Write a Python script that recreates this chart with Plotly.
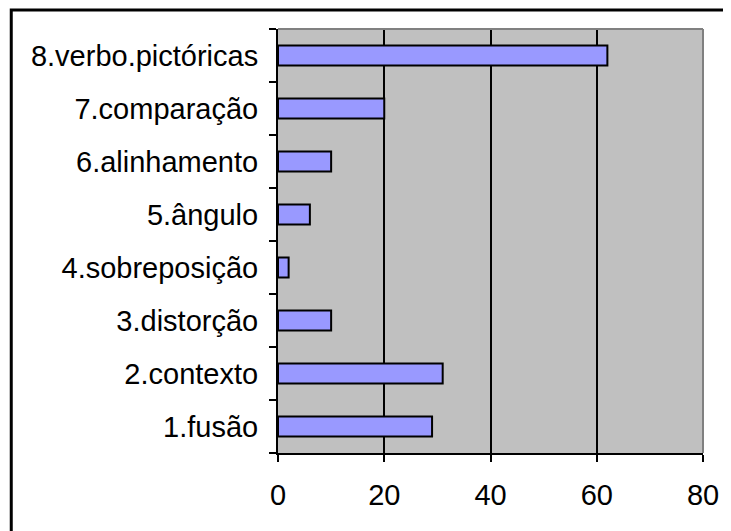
import plotly.graph_objects as go

categories = ["1.fusão", "2.contexto", "3.distorção", "4.sobreposição",
              "5.ângulo", "6.alinhamento", "7.comparação", "8.verbo.pictóricas"]
values = [29, 31, 10, 2, 6, 10, 20, 62]
x_ticks = [0, 20, 40, 60, 80]

# page offset of 8px (default body margin) compensated
OFF = 8
W, H = 731 - OFF, 531 - OFF
ml, mr, mt, mb = 278 - OFF, 26, 29 - OFF, 78
pw, ph = W - ml - mr, H - mt - mb

def px(x):
    return (x - OFF - ml) / pw

def py(y):
    return (H - mb - (y - OFF)) / ph

fig = go.Figure(go.Bar(
    y=categories, x=values, orientation="h",
    marker=dict(color="#9999FF", line=dict(color="black", width=2)),
    width=0.38,
))

font = dict(family="Liberation Sans, Arial, sans-serif", size=29, color="black")

fig.update_layout(
    width=W, height=H,
    margin=dict(l=ml, r=mr, t=mt, b=mb),
    paper_bgcolor="white", plot_bgcolor="#C0C0C0",
    showlegend=False,
    font=font,
    xaxis=dict(range=[0, 80], tickvals=x_ticks, showgrid=True, gridcolor="black",
               gridwidth=1.5, showline=True, linecolor="black", linewidth=2,
               ticks="outside", ticklen=7, tickwidth=1.5, tickcolor="black",
               zeroline=False, tickfont=font, ticklabelstandoff=8),
    yaxis=dict(type="category", categoryorder="array", categoryarray=categories,
               range=[-0.5, 7.5], showgrid=False, showline=True, linecolor="black",
               linewidth=2, ticks="outside", ticklen=7, tickwidth=1.5,
               tickcolor="black", tickson="boundaries", tickfont=font,
               ticklabelstandoff=12),
    shapes=[
        dict(type="rect", xref="paper", yref="paper",
             x0=px(10), x1=px(760), y0=py(560), y1=py(10),
             line=dict(color="black", width=3), layer="above"),
        dict(type="line", xref="paper", yref="paper", x0=0, x1=1, y0=1, y1=1,
             line=dict(color="#808080", width=2)),
        dict(type="line", xref="paper", yref="paper", x0=1, x1=1, y0=0, y1=1,
             line=dict(color="#808080", width=2)),
    ],
)

fig.write_html("out.html")
